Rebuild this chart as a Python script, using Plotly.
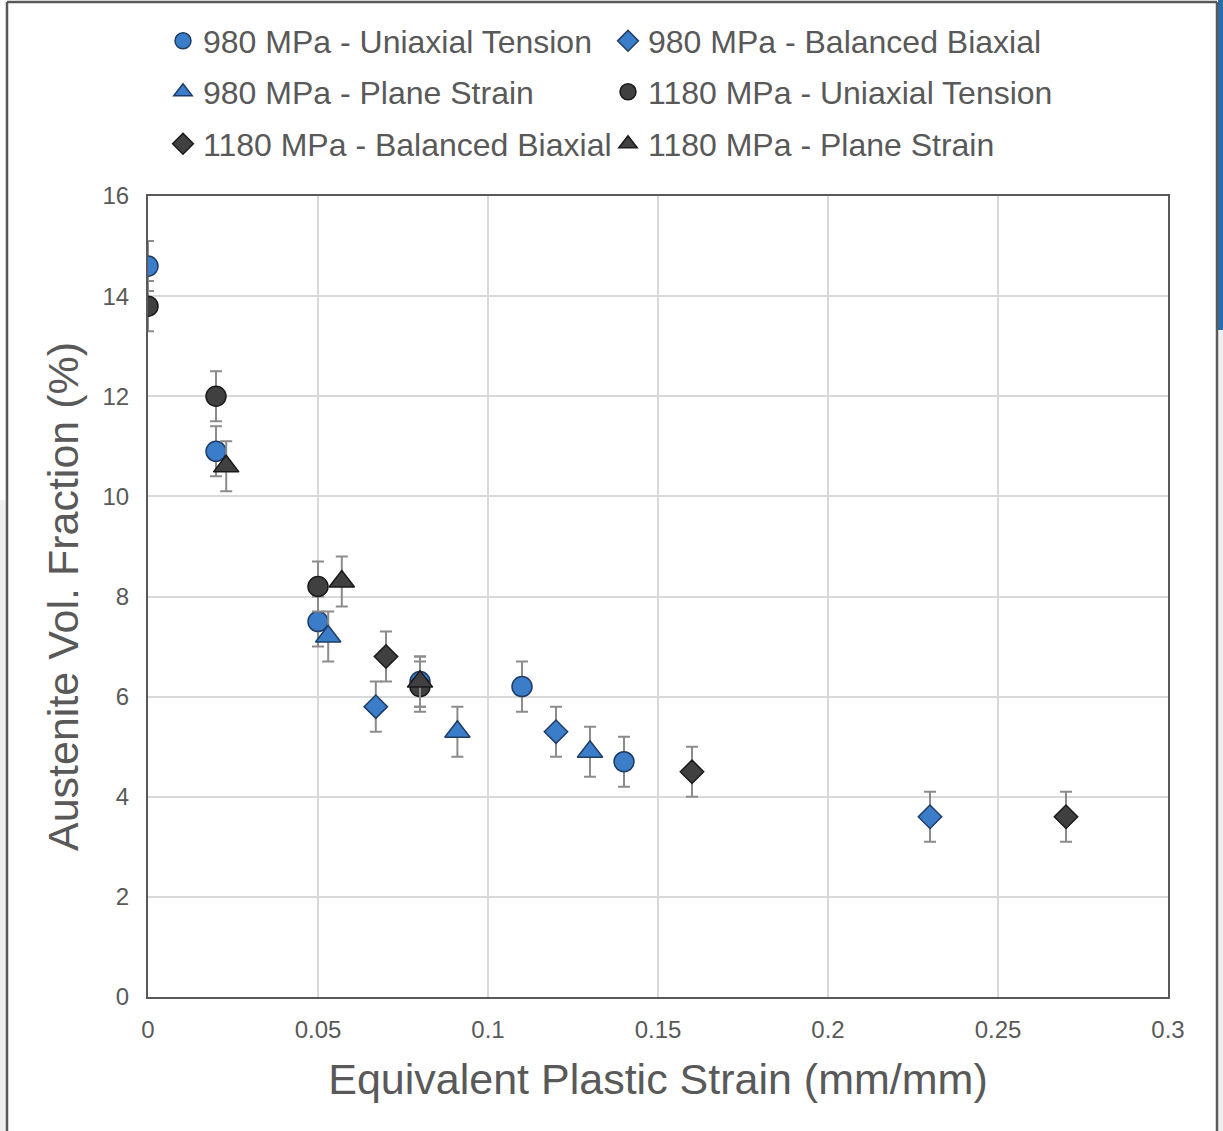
import plotly.graph_objects as go

# ---- data ----
ut980_x = [0.0, 0.02, 0.05, 0.08, 0.11, 0.14]
ut980_y = [14.6, 10.9, 7.5, 6.3, 6.2, 4.7]
bb980_x = [0.067, 0.12, 0.23]
bb980_y = [5.8, 5.3, 3.6]
ps980_x = [0.053, 0.091, 0.13]
ps980_y = [7.2, 5.3, 4.9]
ut1180_x = [0.0, 0.02, 0.05, 0.08]
ut1180_y = [13.8, 12.0, 8.2, 6.2]
bb1180_x = [0.07, 0.16, 0.27]
bb1180_y = [6.8, 4.5, 3.6]
ps1180_x = [0.023, 0.057, 0.08]
ps1180_y = [10.6, 8.3, 6.3]
err = 0.5

x_ticks = [0, 0.05, 0.1, 0.15, 0.2, 0.25, 0.3]
x_ticktext = ["0", "0.05", "0.1", "0.15", "0.2", "0.25", "0.3"]
y_ticks = [0, 2, 4, 6, 8, 10, 12, 14, 16]

BLUE = "#3b7dc8"
BLUE_EDGE = "#1f3d66"
DARK = "#404040"
DARK_EDGE = "#1a1a1a"
TXT = "#595959"
FONT = "Liberation Sans, Arial, sans-serif"

W, H = 1020.0, 801.0
def px(xp):
    return (xp - 148) / W
def py(yp):
    return (997 - yp) / H

series = [
    ("980 MPa - Uniaxial Tension", ut980_x, ut980_y, "circle", BLUE, BLUE_EDGE, 20, "legend"),
    ("980 MPa - Balanced Biaxial", bb980_x, bb980_y, "diamond", BLUE, BLUE_EDGE, 18, "legend"),
    ("980 MPa - Plane Strain", ps980_x, ps980_y, "triangle-up", BLUE, BLUE_EDGE, 22, "legend2"),
    ("1180 MPa - Uniaxial Tension", ut1180_x, ut1180_y, "circle", DARK, DARK_EDGE, 20, "legend2"),
    ("1180 MPa - Balanced Biaxial", bb1180_x, bb1180_y, "diamond", DARK, DARK_EDGE, 18, "legend3"),
    ("1180 MPa - Plane Strain", ps1180_x, ps1180_y, "triangle-up", DARK, DARK_EDGE, 22, "legend3"),
]

fig = go.Figure()
for name, xs, ys, sym, fill, edge, size, leg in series:
    fig.add_trace(go.Scatter(
        x=xs, y=ys, name=name, mode="markers", legend=leg,
        marker=dict(symbol=sym, size=size, color=fill, line=dict(color=edge, width=1.5)),
        error_y=dict(type="constant", value=err, color="#8c8c8c", thickness=2, width=6),
    ))

def legend_row(ycenter):
    return dict(
        orientation="h", x=px(163), xanchor="left", y=py(ycenter), yanchor="middle",
        entrywidth=400, entrywidthmode="pixels",
        font=dict(size=32, color=TXT, family=FONT),
        bgcolor="rgba(0,0,0,0)",
    )

fig.update_layout(
    width=1223, height=1131,
    margin=dict(l=148, r=55, t=196, b=134),
    paper_bgcolor="white", plot_bgcolor="white",
    font=dict(family=FONT, color=TXT),
    showlegend=True,
    legend=legend_row(41),
    legend2=legend_row(92),
    legend3=legend_row(144),
    xaxis=dict(
        range=[0, 0.3], tickvals=x_ticks, ticktext=x_ticktext,
        showgrid=True, gridcolor="#d9d9d9", gridwidth=1.5,
        showline=True, linecolor="#595959", linewidth=2, mirror=True,
        zeroline=False, ticks="", tickfont=dict(size=24, color=TXT),
        ticklabelstandoff=10,
        title=dict(text="Equivalent Plastic Strain (mm/mm)", font=dict(size=43, color=TXT), standoff=22),
    ),
    yaxis=dict(
        range=[0, 16], tickvals=y_ticks,
        showgrid=True, gridcolor="#d9d9d9", gridwidth=1.5,
        showline=True, linecolor="#595959", linewidth=2, mirror=True,
        zeroline=False, ticks="", tickfont=dict(size=24, color=TXT),
        ticklabelstandoff=12,
        title=dict(text="Austenite Vol. Fraction (%)", font=dict(size=43, color=TXT), standoff=10),
    ),
)

# outer frame and screenshot edges
fig.add_shape(type="rect", xref="paper", yref="paper",
              x0=px(-5), x1=px(6), y0=py(1140), y1=py(500),
              fillcolor="#f0f0f0", line=dict(width=0), layer="below")
fig.add_shape(type="rect", xref="paper", yref="paper",
              x0=px(1218), x1=px(1230), y0=py(1140), y1=py(-5),
              fillcolor="#f0f0f0", line=dict(width=0), layer="below")
fig.add_shape(type="rect", xref="paper", yref="paper",
              x0=px(1218), x1=px(1230), y0=py(330), y1=py(-5),
              fillcolor="#2c6ca8", line=dict(width=0), layer="above")
fig.add_shape(type="line", xref="paper", yref="paper",
              x0=px(7), x1=px(7), y0=py(2), y1=py(1140),
              line=dict(color="#595959", width=2.5))
fig.add_shape(type="line", xref="paper", yref="paper",
              x0=px(7), x1=px(1217), y0=py(2), y1=py(2),
              line=dict(color="#595959", width=2.5))
fig.add_shape(type="line", xref="paper", yref="paper",
              x0=px(1217), x1=px(1217), y0=py(2), y1=py(1140),
              line=dict(color="#595959", width=2.5))

fig.write_html("out.html")
